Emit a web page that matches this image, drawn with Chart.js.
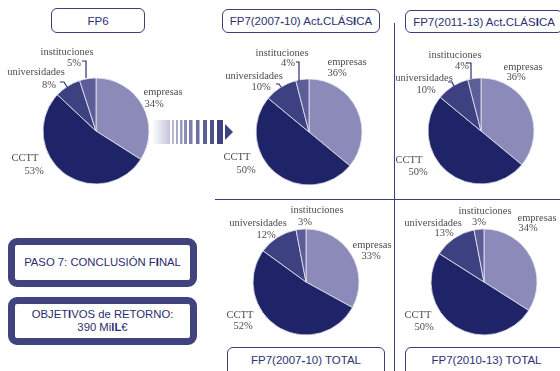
<!DOCTYPE html>
<html>
<head>
<meta charset="utf-8">
<script src="https://cdn.jsdelivr.net/npm/chart.js@4.4.1/dist/chart.umd.min.js"></script>
<style>
  html, body { margin: 0; padding: 0; background: #fff; }
  #stage { position: relative; width: 560px; height: 371px; overflow: hidden; background: #fff; }
  #stage canvas.pie { position: absolute; left: 0; top: 0; }
  .title {
    position: absolute; box-sizing: border-box; border: 1.3px solid #3b3e7c; border-radius: 6px;
    background: #fff; color: #2d3272; font: 11.5px "Liberation Sans", Arial, sans-serif;
    display: flex; align-items: center; justify-content: center; white-space: nowrap;
  }
  .title b, .note b { font-weight: bold; }
  .note {
    position: absolute; box-sizing: border-box; border: 7px solid #41437f; border-radius: 9px;
    background: #fff; color: #2a2e6e; font: 11.3px "Liberation Sans", Arial, sans-serif;
    display: flex; align-items: center; justify-content: center; text-align: center; line-height: 13px;
  }
  .rule { position: absolute; background: #3b3e7c; }
  #arrow { position: absolute; left: 0; top: 0; }
</style>
</head>
<body>
<div id="stage">
  <div class="rule" style="left:215px; top:199px; width:345px; height:1.3px;"></div>
  <div class="rule" style="left:393.5px; top:23px; width:1.3px; height:348px;"></div>

  <div class="title" style="left:51px; top:8px; width:94px; height:25px;"><span>FP6</span></div>
  <div class="title" style="left:222px; top:9px; width:158px; height:24px;"><span>FP7(2007<b>-</b>10) Act<b>.</b>CLÁS<b>I</b>CA</span></div>
  <div class="title" style="left:405px; top:10px; width:158px; height:23px;"><span>FP7(2011<b>-</b>13) Act<b>.</b>CLÁS<b>I</b>CA</span></div>
  <div class="title" style="left:227px; top:347px; width:158px; height:34px; align-items:flex-start; padding-top:6px;"><span>FP7(2007<b>-</b>10) TOTAL</span></div>
  <div class="title" style="left:405px; top:347px; width:163px; height:34px; align-items:flex-start; padding-top:6px;"><span>FP7(2010<b>-</b>13) TOTAL</span></div>

  <div class="note" style="left:8px; top:238px; width:189px; height:49px;"><span>PASO 7: CONCLUSIÓN F<b>I</b>NAL</span></div>
  <div class="note" style="left:8px; top:297px; width:189px; height:48px;"><span>OBJET<b>I</b>VOS de RETORNO:<br>390 Mi<b>lL</b>€</span></div>

  <canvas id="arrow" width="560" height="371"></canvas>
  <canvas class="pie" id="pie0" width="560" height="371"></canvas>
  <canvas class="pie" id="pie1" width="560" height="371"></canvas>
  <canvas class="pie" id="pie2" width="560" height="371"></canvas>
  <canvas class="pie" id="pie3" width="560" height="371"></canvas>
  <canvas class="pie" id="pie4" width="560" height="371"></canvas>
</div>
<script>
// Participation shares (%) by type of entity
const categories = ['empresas', 'CCTT', 'universidades', 'instituciones'];
const fp6          = [34, 53, 8, 5];
const fp7Clasica0710 = [36, 50, 10, 4];
const fp7Clasica1113 = [36, 50, 10, 4];
const fp7Total0710 = [33, 52, 12, 3];
const fp7Total1013 = [34, 50, 13, 3];

const sliceColors = ['#8b8ab9', '#1f2468', '#3e4181', '#5d5e99'];

// Placement of each pie and its labels (offsets from the pie centre)
const layout = [
  { data: fp6, cx: 96, cy: 131,
    labels: [[67,-39,58,-27], [-71,27,-62,40], [-60,-59,-47,-46], [-29,-79,-22,-68]],
    leaders: [[[-36,-49],[-32,-49],[-29,-44]], [[-14,-70],[-10,-70],[-10,-53]]] },
  { data: fp7Clasica0710, cx: 309, cy: 132,
    labels: [[38,-70,28,-59], [-72,25,-63,38], [-55,-56,-48,-45], [-27,-79,-21,-69]],
    leaders: [[[-33,-48],[-30,-48],[-28,-45]], [[-13,-70],[-10,-70],[-10,-51]]] },
  { data: fp7Clasica1113, cx: 481, cy: 131,
    labels: [[42,-64,35,-54], [-72,29,-63,41], [-57,-53,-55,-41], [-26,-76,-19,-65]],
    leaders: [[[-33,-49],[-29,-49],[-27,-45]], [[-15,-68],[-10,-68],[-10,-52]]] },
  { data: fp7Total0710, cx: 306, cy: 282,
    labels: [[66,-37,65,-26], [-66,33,-63,44], [-48,-59,-40,-47], [11,-72,-1,-60]],
    leaders: [] },
  { data: fp7Total1013, cx: 484, cy: 282,
    labels: [[53,-64,44,-54], [-66,33,-60,45], [-51,-59,-40,-49], [1,-71,-5,-60]],
    leaders: [] }
];
const R = 53;
const W = 560, H = 371;

// Draws category names, percentages and small leader lines around each pie
const pieLabels = {
  id: 'pieLabels',
  afterDatasetsDraw(chart, args, opts) {
    const ctx = chart.ctx;
    const arc = chart.getDatasetMeta(0).data[0];
    const cx = arc.x, cy = arc.y;
    const values = chart.data.datasets[0].data;
    ctx.save();
    ctx.font = '10.5px "Liberation Serif", "Times New Roman", serif';
    ctx.fillStyle = '#4d4d4d';
    ctx.textAlign = 'center';
    ctx.textBaseline = 'middle';
    chart.data.labels.forEach((name, i) => {
      const p = opts.positions[i];
      ctx.fillText(name, cx + p[0], cy + p[1]);
      ctx.fillText(values[i] + '%', cx + p[2], cy + p[3]);
    });
    ctx.strokeStyle = '#2a2e72';
    ctx.lineWidth = 1.2;
    opts.leaders.forEach(pts => {
      ctx.beginPath();
      pts.forEach((q, k) => k ? ctx.lineTo(cx + q[0], cy + q[1]) : ctx.moveTo(cx + q[0], cy + q[1]));
      ctx.stroke();
    });
    ctx.restore();
  }
};

layout.forEach((p, k) => {
  new Chart(document.getElementById('pie' + k), {
    type: 'pie',
    data: {
      labels: categories,
      datasets: [{
        data: p.data,
        backgroundColor: sliceColors,
        borderColor: '#e8e8f2',
        borderWidth: 0.8,
        radius: R
      }]
    },
    options: {
      responsive: false,
      animation: false,
      devicePixelRatio: 1,
      events: [],
      layout: { padding: { left: p.cx - R, top: p.cy - R, right: W - p.cx - R, bottom: H - p.cy - R } },
      plugins: {
        legend: { display: false },
        tooltip: { enabled: false },
        title: { display: false },
        pieLabels: { positions: p.labels, leaders: p.leaders }
      }
    },
    plugins: [pieLabels]
  });
});

// Striped arrow between the first and second pie
(function drawArrow() {
  const ctx = document.getElementById('arrow').getContext('2d');
  const top = 120, h = 24;
  const g = ctx.createLinearGradient(152, 0, 170, 0);
  g.addColorStop(0, '#ffffff');
  g.addColorStop(1, '#c3c3de');
  ctx.fillStyle = g;
  ctx.fillRect(152, top, 18, h);
  const stripes = [[172,2],[176,2],[180,2.5],[184,3],[189,3.5],[196,3.5],[203,4],[210,4],[217,6]];
  const c0 = [184, 184, 214], c1 = [63, 66, 128];
  stripes.forEach((s, i) => {
    const t = i / (stripes.length - 1);
    const c = c0.map((v, j) => Math.round(v + (c1[j] - v) * t));
    ctx.fillStyle = `rgb(${c[0]},${c[1]},${c[2]})`;
    ctx.fillRect(s[0], top, s[1], h);
  });
  ctx.fillStyle = '#3f4280';
  ctx.beginPath();
  ctx.moveTo(225, 124);
  ctx.lineTo(233, 132);
  ctx.lineTo(225, 140);
  ctx.closePath();
  ctx.fill();
})();
</script>
</body>
</html>
